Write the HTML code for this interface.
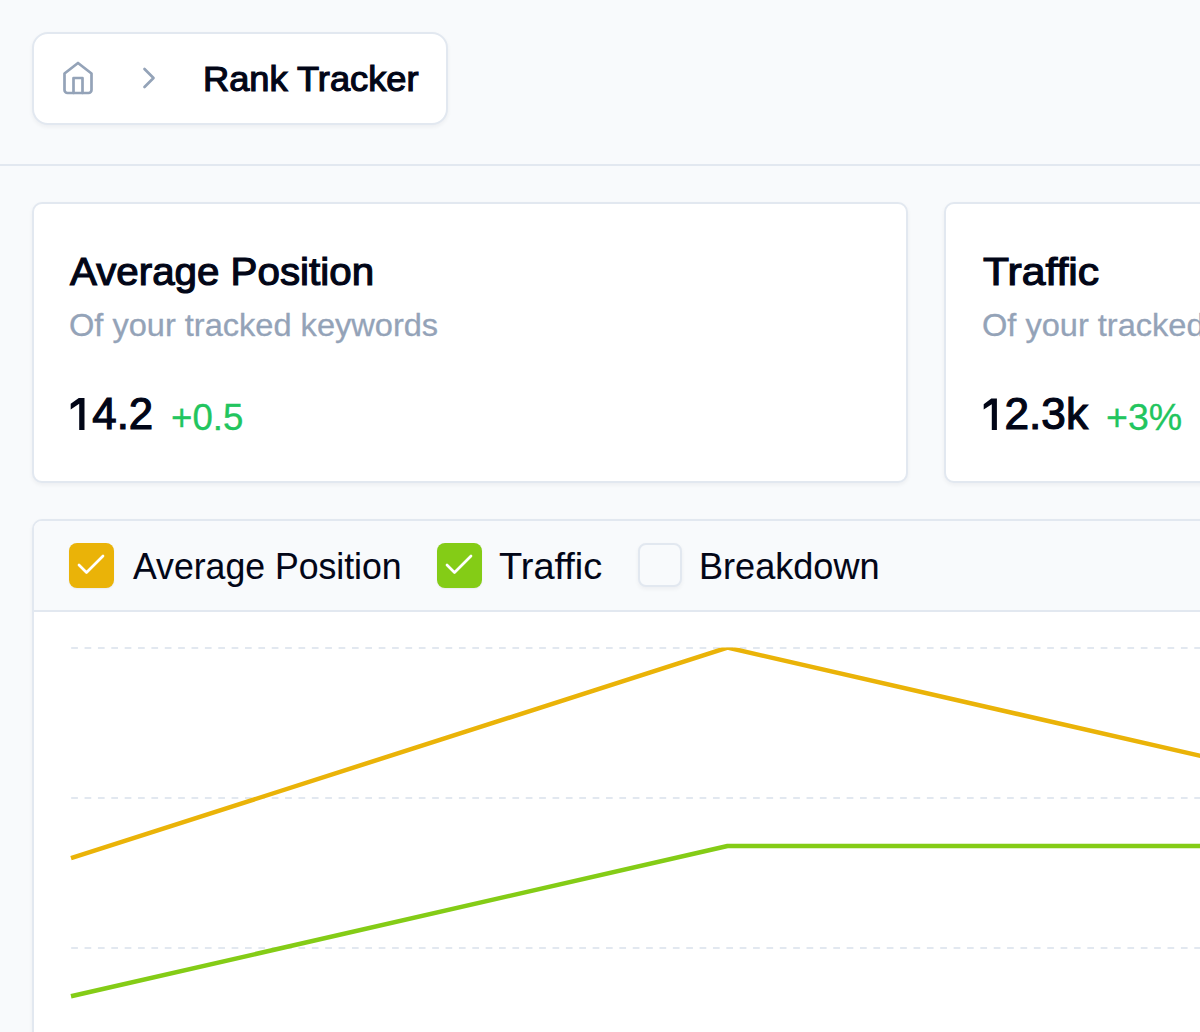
<!DOCTYPE html>
<html>
<head>
<meta charset="utf-8">
<style>
*{box-sizing:border-box;margin:0;padding:0}
html,body{width:1200px;height:1032px;overflow:hidden;background:#f8fafc;font-family:"Liberation Sans",sans-serif;color:#020617}
.abs{position:absolute}
@media (max-width:700px){html{zoom:0.5}}
.card{position:absolute;background:#fff;border:2px solid #e2e8f0;box-shadow:0 2px 4px rgba(15,23,42,0.05)}
.h{color:transparent;-webkit-text-stroke-color:transparent}
.t{position:absolute;white-space:nowrap;line-height:1;font-weight:400;transform-origin:0 0}
</style>
</head>
<body>
<div id="root" style="position:relative;width:1200px;height:1032px;overflow:hidden">
<!-- breadcrumb -->
<div class="card" style="left:32px;top:32px;width:416px;height:93px;border-radius:16px"></div>
<svg class="abs" style="left:60px;top:60px" width="36" height="36" viewBox="0 0 24 24" fill="none" stroke="#94a3b8" stroke-width="1.8" stroke-linecap="round" stroke-linejoin="round"><path d="m3 9 9-7 9 7v11a2 2 0 0 1-2 2H5a2 2 0 0 1-2-2z"/><polyline points="9 22 9 12 15 12 15 22"/></svg>
<svg class="abs" style="left:130.8px;top:60.3px" width="36" height="36" viewBox="0 0 24 24" fill="none" stroke="#94a3b8" stroke-width="1.8" stroke-linecap="round" stroke-linejoin="round"><path d="m9 18 6-6-6-6"/></svg>
<div class="t" id="rt" style="left:202.81px;top:61.04px;font-size:35px;color:#020617;-webkit-text-stroke:1.2px #020617;transform:scaleX(1.0355);">Rank Tracker</div>
<div class="abs" style="left:0;top:164px;width:1200px;height:2px;background:#e2e8f0"></div>

<!-- stat cards -->
<div class="card" style="left:32px;top:202px;width:876px;height:281px;border-radius:10px"></div>
<div class="card" style="left:944px;top:202px;width:876px;height:281px;border-radius:10px"></div>
<div class="t" id="h1" style="left:70.32px;top:251.84px;font-size:39.5px;color:#020617;-webkit-text-stroke:1.2px #020617;transform:scaleX(1.0206);">Average Position</div>
<div class="t" id="s1" style="left:68.79px;top:308.53px;font-size:32px;color:#94a3b8;-webkit-text-stroke:0.3px #94a3b8;transform:scaleX(1.0174);">Of your tracked keywords</div>
<div class="t" id="n1" style="left:67.87px;top:392.44px;font-size:44px;color:#020617;-webkit-text-stroke:1.2px #020617;transform:scaleX(0.9949);"><span class="h">1</span>4.2</div>
<div class="t" id="d1" style="left:170.99px;top:400.13px;font-size:36px;color:#22c55e;-webkit-text-stroke:0.3px #22c55e;transform:scaleX(1.0177);">+0.5</div>
<div class="t" id="h2" style="left:982.96px;top:251.94px;font-size:39.5px;color:#020617;-webkit-text-stroke:1.2px #020617;transform:scaleX(1.0799);">Traffic</div>
<div class="t" id="s2" style="left:981.79px;top:308.53px;font-size:32px;color:#94a3b8;-webkit-text-stroke:0.3px #94a3b8;transform:scaleX(1.0174);">Of your tracked keywords</div>
<div class="t" id="n2" style="left:980.35px;top:392.44px;font-size:44px;color:#020617;-webkit-text-stroke:1.2px #020617;transform:scaleX(1.0031);"><span class="h">1</span>2.3k</div>
<div class="t" id="d2" style="left:1105.65px;top:400.13px;font-size:36px;color:#22c55e;-webkit-text-stroke:0.3px #22c55e;transform:scaleX(1.0432);">+3%</div>

<!-- chart card -->
<div class="card" style="left:32px;top:519px;width:1400px;height:800px;border-radius:10px;overflow:hidden">
  <div class="abs" style="left:0;top:0;right:0;height:91px;background:#f8fafc;border-bottom:2px solid #e2e8f0"></div>
</div>
<div class="abs" style="left:69px;top:543px;width:44.5px;height:44.5px;border-radius:8px;background:#eab308;box-shadow:0 1px 2px rgba(15,23,42,0.06)"></div>
<svg class="abs" style="left:73px;top:547px" width="36" height="36" viewBox="0 0 24 24" fill="none" stroke="#fff" stroke-width="1.8" stroke-linecap="round" stroke-linejoin="round"><path d="M20 6 9 17l-5-5"/></svg>
<div class="t" id="l1" style="left:132.79px;top:548.60px;font-size:36px;color:#020617;-webkit-text-stroke:0.1px #020617;transform:scaleX(0.9893);">Average Position</div>
<div class="abs" style="left:437px;top:543px;width:44.5px;height:44.5px;border-radius:8px;background:#84cc16;box-shadow:0 1px 2px rgba(15,23,42,0.06)"></div>
<svg class="abs" style="left:441px;top:547px" width="36" height="36" viewBox="0 0 24 24" fill="none" stroke="#fff" stroke-width="1.8" stroke-linecap="round" stroke-linejoin="round"><path d="M20 6 9 17l-5-5"/></svg>
<div class="t" id="l2" style="left:498.61px;top:548.60px;font-size:36px;color:#020617;-webkit-text-stroke:0.1px #020617;transform:scaleX(1.0534);">Traffic</div>
<div class="abs" style="left:638px;top:543px;width:44px;height:44px;border-radius:8px;background:#f8fafc;border:2px solid #e2e8f0;box-shadow:0 2px 4px rgba(15,23,42,0.05)"></div>
<div class="t" id="l3" style="left:698.73px;top:548.60px;font-size:36px;color:#020617;-webkit-text-stroke:0.1px #020617;transform:scaleX(1.0022);">Breakdown</div>

<svg class="abs" style="left:0;top:0" width="1200" height="1032">
  <g stroke="#e2e8f0" stroke-width="2" stroke-dasharray="6.685 6.685">
    <line x1="71.2" y1="648" x2="1200" y2="648"/>
    <line x1="71.2" y1="798" x2="1200" y2="798"/>
    <line x1="71.2" y1="948" x2="1200" y2="948"/>
  </g>
  <path fill="#020617" d="M84.5 398V430H79.2V403.8L70.7 409.4V403.8L78.8 398Z"/>
  <path fill="#020617" d="M996.9 398.4V430H991.8V404.2L983.7 409.4V404.2L991.3 398.4Z"/>
  <defs><clipPath id="plot"><rect x="0" y="647.5" width="1200" height="400"/></clipPath></defs>
  <g clip-path="url(#plot)" fill="none" stroke-width="4.5" stroke-linejoin="round">
  <polyline points="71,858.2 727.5,647.6 1382,797.5" stroke="#eab308"/>
  <polyline points="71,996.3 727.5,846 1400,846" stroke="#84cc16"/>
  </g>
</svg>
</div>
</body>
</html>
